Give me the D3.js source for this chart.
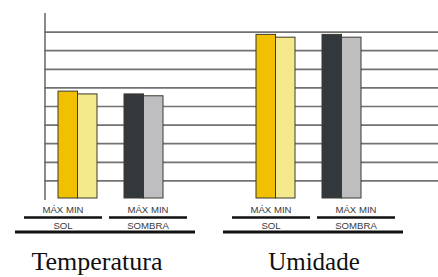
<!DOCTYPE html>
<html>
<head>
<meta charset="utf-8">
<script src="https://cdn.jsdelivr.net/npm/d3@7"></script>
<style>
  html, body { margin: 0; padding: 0; background: #ffffff; }
  svg { display: block; }
</style>
</head>
<body>
<div id="chart"></div>
<script>
// ---- data ----
const charts = ["Temperatura", "Umidade"];
const locations = ["SOL", "SOMBRA"];
const measures = ["MAX", "MIN"];
const measureLabels = ["MÁX", "MIN"];
const temperaturaValues = [5.8, 5.65, 5.65, 5.55];   // SOL MAX, SOL MIN, SOMBRA MAX, SOMBRA MIN
const umidadeValues = [8.85, 8.7, 8.85, 8.7];
const gridTicks = [1, 2, 3, 4, 5, 6, 7, 8, 9];

const W = 438, H = 277;
const svg = d3.select("#chart").append("svg").attr("width", W).attr("height", H);

const rows = [];
charts.forEach((c, ci) => {
  const vals = ci === 0 ? temperaturaValues : umidadeValues;
  locations.forEach((l, li) => {
    measures.forEach((m, mi) => {
      rows.push({ chart: c, loc: l, measure: m, value: vals[li * 2 + mi] });
    });
  });
});

// scales
const y = d3.scaleLinear().domain([0, 10]).range([199, 13]);
const x0 = d3.scaleBand().domain(charts).range([58, 454]);
const x1 = d3.scaleBand().domain(locations).range([0, 132]);
const x2 = d3.scaleBand().domain(measures).range([0, 39]);

// label layout scale (label blocks are offset from bars in the original)
const lx = d3.scalePoint().domain(charts).range([105, 313]);
const subOffset = d3.scalePoint().domain(locations).range([-42, 43]);
const titleX = d3.scalePoint().domain(charts).range([97, 314]);

const colors = {
  SOL: { MAX: "#F1C000", MIN: "#F4EA8C" },
  SOMBRA: { MAX: "#32383B", MIN: "#BEBEC0" }
};

// gridlines
svg.append("g")
  .attr("transform", "translate(44,0)")
  .call(d3.axisLeft(y).tickValues(gridTicks).tickSize(-(W - 44)).tickFormat(""))
  .call(g => g.select(".domain").remove())
  .call(g => g.selectAll(".tick line").attr("stroke", "#727272").attr("stroke-width", 1.7));

// vertical axis
svg.append("line")
  .attr("x1", 45).attr("x2", 45)
  .attr("y1", y(10)).attr("y2", y(0) + 1)
  .attr("stroke", "#6e6e6e").attr("stroke-width", 1.6);

// bars
svg.append("g").selectAll("rect").data(rows).join("rect")
  .attr("x", d => x0(d.chart) + x1(d.loc) + x2(d.measure))
  .attr("y", d => y(d.value))
  .attr("width", x2.bandwidth())
  .attr("height", d => y(0) - 1 - y(d.value))
  .attr("fill", d => colors[d.loc][d.measure])
  .attr("stroke", "#3b3a30")
  .attr("stroke-width", 1);

// label blocks
charts.forEach(c => {
  const g = svg.append("g");
  const cx = lx(c);
  locations.forEach(l => {
    const sx = cx + subOffset(l);
    g.append("text")
      .attr("x", sx).attr("y", 213)
      .attr("text-anchor", "middle")
      .attr("font-family", "Liberation Sans, Arial, sans-serif")
      .attr("font-size", 9.6)
      .attr("fill", "#3a3a3a")
      .text(measureLabels.join(" "));
    g.append("line")
      .attr("x1", sx - 39).attr("x2", sx + 39)
      .attr("y1", 217.5).attr("y2", 217.5)
      .attr("stroke", "#111").attr("stroke-width", 2.6);
    g.append("text")
      .attr("x", sx).attr("y", 229)
      .attr("text-anchor", "middle")
      .attr("font-family", "Liberation Sans, Arial, sans-serif")
      .attr("font-size", 9.6)
      .attr("fill", "#3a3a3a")
      .text(l);
  });
  g.append("line")
    .attr("x1", cx - 90).attr("x2", cx + 90)
    .attr("y1", 232).attr("y2", 232)
    .attr("stroke", "#111").attr("stroke-width", 2.8);
  g.append("text")
    .attr("x", titleX(c)).attr("y", 270)
    .attr("text-anchor", "middle")
    .attr("font-family", "Liberation Serif, Times New Roman, serif")
    .attr("font-size", c === "Temperatura" ? 26 : 25)
    .attr("fill", "#111")
    .text(c);
});
</script>
</body>
</html>
